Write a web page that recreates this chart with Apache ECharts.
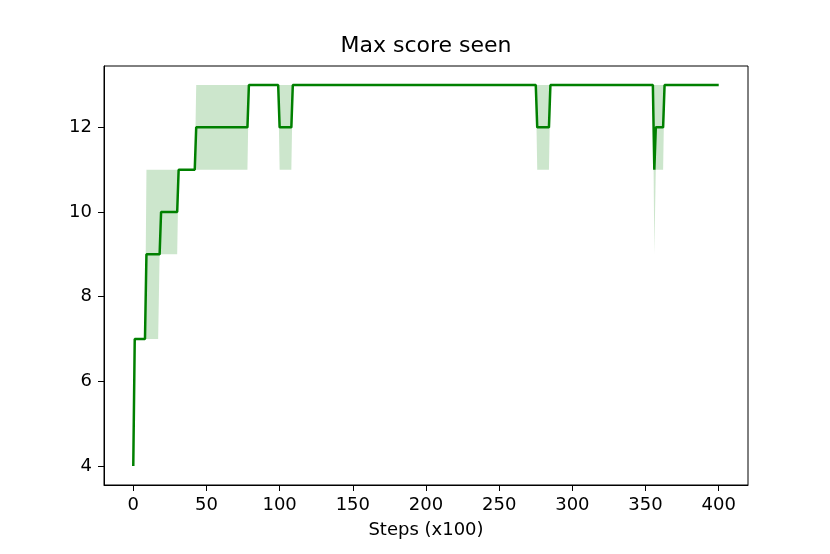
<!DOCTYPE html>
<html>
<head>
<meta charset="utf-8">
<script src="https://cdn.jsdelivr.net/npm/echarts@6/dist/echarts.min.js"></script>
<style>
  html, body { margin: 0; padding: 0; background: #fff; }
  #chart { width: 830px; height: 554px; }
</style>
</head>
<body>
<div id="chart"></div>
<script>
// 折线：最高分（只记拐点）
const lineSteps = [0, 1, 8, 9, 18, 19, 30, 31, 42, 43, 78, 79, 99, 100, 108, 109,
                   275, 276, 284, 285, 355, 356, 357, 362, 363, 400];
const lineScore = [4, 7, 7, 9, 9, 10, 10, 11, 11, 12, 12, 13, 13, 12, 12, 13,
                   13, 12, 12, 13, 13, 11, 12, 12, 13, 13];

// 阴影区间：上下界
const bandSteps = [0, 1, 8, 9, 17, 18, 30, 31, 42, 43, 78, 79, 99, 100, 108, 109,
                   275, 276, 284, 285, 355, 356, 357, 362, 363, 400];
const bandLow   = [4, 7, 7, 7, 7, 9, 9, 11, 11, 11, 11, 13, 13, 11, 11, 13,
                   13, 11, 11, 13, 13, 9, 11, 11, 13, 13];
const bandHigh  = [4, 7, 7, 11, 11, 11, 11, 11, 11, 13, 13, 13, 13, 13, 13, 13,
                   13, 13, 13, 13, 13, 13, 13, 13, 13, 13];

// 刻度
const xTicks = [0, 50, 100, 150, 200, 250, 300, 350, 400];
const yTicks = [4, 6, 8, 10, 12];

const chart = echarts.init(document.getElementById('chart'));

const font = '"DejaVu Sans", sans-serif';

// 区间画成一个多边形：上界从左到右，下界从右到左
const renderBand = (params, api) => {
  if (params.dataIndex !== 0) return null;
  const pts = [];
  for (let i = 0; i < bandSteps.length; i++) {
    pts.push(api.coord([bandSteps[i], bandHigh[i]]));
  }
  for (let i = bandSteps.length - 1; i >= 0; i--) {
    pts.push(api.coord([bandSteps[i], bandLow[i]]));
  }
  return {
    type: 'polygon',
    shape: { points: pts },
    style: { fill: 'rgba(0, 128, 0, 0.2)' },
    silent: true
  };
};

const option = {
  animation: false,
  backgroundColor: '#fff',
  graphic: [{
    type: 'text',
    x: 426,
    y: 35,
    style: {
      text: 'Max score seen',
      font: '22px ' + font,
      fill: '#000',
      align: 'center',
      verticalAlign: 'top'
    }
  }],
  grid: {
    left: 104,
    right: 82,
    top: 66,
    bottom: 69,
    show: true,
    borderColor: '#000',
    borderWidth: 1,
    outerBoundsMode: 'none'
  },
  xAxis: {
    type: 'value',
    min: -20,
    max: 420,
    name: 'Steps (x100)',
    nameLocation: 'middle',
    nameGap: 36,
    nameTextStyle: { color: '#000', fontSize: 18, fontFamily: font },
    axisLine: { show: true, onZero: false, lineStyle: { color: '#000', width: 1 } },
    axisTick: { show: true, length: 6, customValues: xTicks, lineStyle: { color: '#000' } },
    axisLabel: { customValues: xTicks, margin: 11, color: '#000', fontSize: 18, fontFamily: font },
    splitLine: { show: false }
  },
  yAxis: {
    type: 'value',
    min: 3.55,
    max: 13.45,
    axisLine: { show: true, onZero: false, lineStyle: { color: '#000', width: 1 } },
    axisTick: { show: true, length: 6, customValues: yTicks, lineStyle: { color: '#000' } },
    axisLabel: { customValues: yTicks, margin: 12, color: '#000', fontSize: 18, fontFamily: font },
    splitLine: { show: false }
  },
  series: [
    {
      name: 'band',
      type: 'custom',
      renderItem: renderBand,
      encode: { x: 0, y: [1, 2] },
      data: bandSteps.map((s, i) => [s, bandLow[i], bandHigh[i]]),
      z: 1
    },
    {
      name: 'score',
      type: 'line',
      showSymbol: false,
      z: 5,
      lineStyle: { color: '#008000', width: 2.5 },
      data: lineSteps.map((s, i) => [s, lineScore[i]])
    }
  ]
};

chart.setOption(option);
</script>
</body>
</html>
